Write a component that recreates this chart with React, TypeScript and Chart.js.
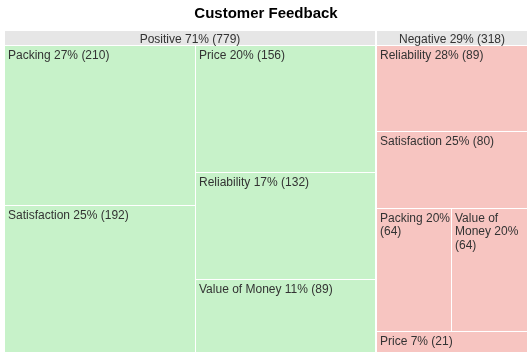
import React, { useEffect, useRef } from "react";
import { Chart, registerables } from "chart.js";

Chart.register(...registerables);

const groups = ["Positive", "Negative"];
const categories = ["Packing", "Satisfaction", "Price", "Reliability", "Value of Money"];
const positiveValues = [210, 192, 156, 132, 89];
const negativeValues = [64, 80, 21, 89, 64];
const groupValues = [positiveValues, negativeValues];
const groupColors = ["#c7f2c9", "#f7c5c1"];

const FONT = "Arial, 'Liberation Sans', sans-serif";

type Item = { v: number; idx: number };
type Rect = { x: number; y: number; w: number; h: number };

function worst(row: number[], side: number, scale: number): number {
  const areas = row.map((v) => v * scale);
  const s = areas.reduce((a, b) => a + b, 0);
  const mx = Math.max(...areas);
  const mn = Math.min(...areas);
  return Math.max((side * side * mx) / (s * s), (s * s) / (side * side * mn));
}

function squarify(values: number[], rect: Rect): Rect[] {
  const items: Item[] = values.map((v, idx) => ({ v, idx })).sort((a, b) => b.v - a.v);
  const out: Rect[] = new Array(values.length);
  let r = { ...rect };
  let i = 0;
  while (i < items.length) {
    const remaining = items.slice(i).reduce((a, b) => a + b.v, 0);
    const scale = (r.w * r.h) / remaining;
    const side = Math.min(r.w, r.h);
    const row: Item[] = [items[i]];
    let j = i + 1;
    while (j < items.length) {
      const cur = worst(row.map((t) => t.v), side, scale);
      const next = worst([...row, items[j]].map((t) => t.v), side, scale);
      if (next <= cur) {
        row.push(items[j]);
        j++;
      } else break;
    }
    const rowSum = row.reduce((a, b) => a + b.v, 0);
    const rowArea = rowSum * scale;
    if (r.w >= r.h) {
      const cw = rowArea / r.h;
      let y = r.y;
      for (const t of row) {
        const hh = (t.v * scale) / cw;
        out[t.idx] = { x: r.x, y, w: cw, h: hh };
        y += hh;
      }
      r = { x: r.x + cw, y: r.y, w: r.w - cw, h: r.h };
    } else {
      const rh = rowArea / r.w;
      let x = r.x;
      for (const t of row) {
        const ww = (t.v * scale) / rh;
        out[t.idx] = { x, y: r.y, w: ww, h: rh };
        x += ww;
      }
      r = { x: r.x, y: r.y + rh, w: r.w, h: r.h - rh };
    }
    i = j;
  }
  return out;
}

function wrap(ctx: CanvasRenderingContext2D, text: string, maxW: number): string[] {
  const words = text.split(" ");
  const lines: string[] = [];
  let cur = "";
  for (const w of words) {
    const test = cur ? cur + " " + w : w;
    if (cur && ctx.measureText(test).width > maxW) {
      lines.push(cur);
      cur = w;
    } else cur = test;
  }
  if (cur) lines.push(cur);
  return lines;
}

const treemapPlugin = {
  id: "treemapDraw",
  afterDraw(chart: any) {
    const ctx: CanvasRenderingContext2D = chart.ctx;
    const xs = chart.scales.x;
    const ys = chart.scales.y;
    const left = xs.getPixelForValue(0);
    const right = xs.getPixelForValue(1);
    const top = ys.getPixelForValue(0);
    const bottom = ys.getPixelForValue(1);
    const totals = groupValues.map((arr) => arr.reduce((a, b) => a + b, 0));
    const grand = totals.reduce((a, b) => a + b, 0);
    const groupRects = squarify(totals, { x: left, y: top, w: right - left, h: bottom - top });
    const headerH = 14;
    ctx.save();
    groupRects.forEach((g, gi) => {
      const gx0 = Math.round(g.x) + (g.x > left + 0.5 ? 1 : 0);
      const gx1 = Math.round(g.x + g.w) - (g.x + g.w < right - 0.5 ? 1 : 0);
      const gy0 = Math.round(g.y);
      const gy1 = Math.round(g.y + g.h);
      // header
      ctx.fillStyle = "#e6e6e6";
      ctx.fillRect(gx0, gy0, gx1 - gx0, headerH);
      ctx.fillStyle = "#333";
      ctx.font = `12px ${FONT}`;
      ctx.textAlign = "center";
      ctx.textBaseline = "alphabetic";
      const pct = Math.round((totals[gi] / grand) * 100);
      ctx.fillText(`${groups[gi]} ${pct}% (${totals[gi]})`, (gx0 + gx1) / 2, gy0 + 11.5);
      // children: laid out on the full group box, then fitted below the header
      const area: Rect = { x: gx0, y: gy0 + headerH + 1, w: gx1 - gx0, h: gy1 - (gy0 + headerH + 1) };
      const full: Rect = { x: gx0, y: gy0, w: gx1 - gx0, h: gy1 - gy0 };
      const ky = area.h / full.h;
      const vals = groupValues[gi];
      const kids = squarify(vals, full).map((k) => ({
        x: k.x,
        w: k.w,
        y: area.y + (k.y - full.y) * ky,
        h: k.h * ky,
      }));
      kids.forEach((k, ki) => {
        const x0 = Math.round(k.x);
        const y0 = Math.round(k.y);
        let x1 = Math.round(k.x + k.w);
        let y1 = Math.round(k.y + k.h);
        if (x1 < area.x + area.w - 0.5) x1 -= 1;
        if (y1 < area.y + area.h - 0.5) y1 -= 1;
        ctx.fillStyle = groupColors[gi];
        ctx.fillRect(x0, y0, x1 - x0, y1 - y0);
        const p = Math.round((vals[ki] / totals[gi]) * 100);
        const label = `${categories[ki]} ${p}% (${vals[ki]})`;
        ctx.fillStyle = "#333";
        ctx.textAlign = "left";
        const lines = wrap(ctx, label, x1 - x0 - 2);
        lines.forEach((ln, li) => {
          ctx.fillText(ln, x0 + 3, y0 + 12.5 + li * 13.5);
        });
      });
    });
    ctx.restore();
  },
};

export default function App() {
  const ref = useRef<HTMLCanvasElement | null>(null);
  useEffect(() => {
    if (!ref.current) return;
    const chart = new Chart(ref.current, {
      type: "scatter",
      data: { datasets: [{ data: [] }] },
      options: {
        animation: false,
        responsive: true,
        maintainAspectRatio: false,
        layout: { padding: { left: 5, right: 5, top: 0, bottom: 3 } },
        plugins: {
          legend: { display: false },
          tooltip: { enabled: false },
          title: {
            display: true,
            text: "Customer Feedback",
            color: "#000",
            font: { size: 15, weight: "bold", family: FONT },
            padding: { top: 5, bottom: 8 },
          },
        },
        scales: {
          x: { type: "linear", min: 0, max: 1, display: false },
          y: { type: "linear", min: 0, max: 1, display: false, reverse: true },
        },
      },
      plugins: [treemapPlugin],
    } as any);
    return () => chart.destroy();
  }, []);
  return (
    <div style={{ position: "fixed", left: 0, top: 0, width: 532, height: 355 }}>
      <canvas ref={ref} />
    </div>
  );
}
